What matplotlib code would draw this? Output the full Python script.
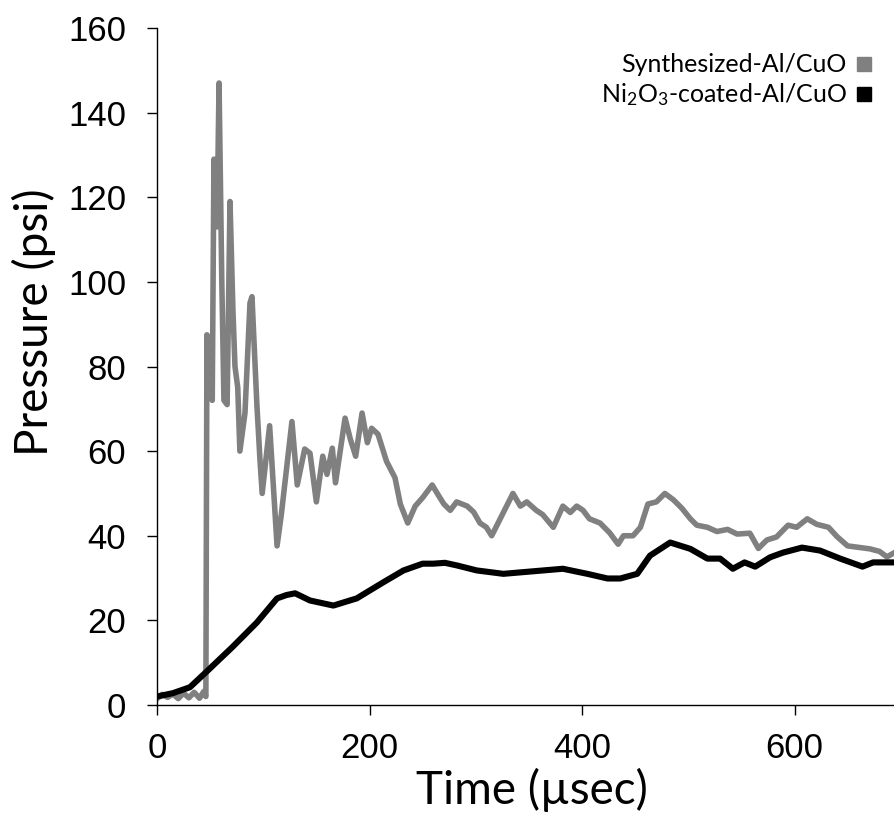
import numpy as np
import matplotlib
matplotlib.use("Agg")
import matplotlib.pyplot as plt
from matplotlib.lines import Line2D

# --- data ---
t_synth = [0, 5, 10, 15, 20, 25, 30, 35, 40, 44, 46, 47, 48, 50, 52, 53.6, 55, 56.5,
           58.4, 61, 63, 66, 68.7, 71.5, 73.4, 76, 78, 82.8, 87.5, 89.4, 94, 97, 99,
           106, 113, 117, 127, 132, 139, 144, 150, 156, 160, 165, 168, 177, 182, 187,
           193, 198, 202, 208, 216, 224, 229, 236, 243, 250, 259, 265, 270, 276, 282,
           292, 298, 304, 310, 315, 323, 329, 335, 342, 348, 357, 363, 368, 373, 382,
           389, 395, 401, 407, 417, 426, 434, 439, 448, 455, 462, 470, 478, 486, 494,
           502, 508, 518, 527, 537, 546, 558, 566, 574, 583, 594, 602, 612, 621, 632,
           640, 650, 662, 671, 680, 687, 694]
p_synth = [1.5, 2.5, 1.8, 2.6, 1.5, 2.8, 1.7, 3.0, 1.6, 3.2, 2.0, 87.5, 73, 85, 72, 129, 120, 113,
           147, 100, 72, 71, 119, 93, 80, 75, 60, 69, 95, 96.5, 71, 57.6, 50,
           66, 37.6, 45, 67, 52, 60.5, 59.5, 48, 58.8, 54.5, 60.7, 52.5, 67.8, 62.8, 58.8,
           69, 62, 65.4, 64, 57.6, 53.7, 47.5, 43, 47, 49, 52, 49.5, 47.5, 46, 48,
           47, 45.6, 43, 42, 40, 44, 47, 50, 47, 48, 46, 45, 43.5, 42, 47,
           45.5, 47, 46, 44, 43, 40.7, 38, 40, 40, 42, 47.5, 48, 50, 48.5, 46.5,
           44, 42.5, 42, 41, 41.5, 40.4, 40.6, 37, 39, 39.7, 42.5, 42, 44, 42.7, 42,
           39.8, 37.6, 37.2, 36.9, 36.3, 35, 36]

t_coated = [0, 15, 31, 48, 71, 94, 113, 122, 130, 144, 166, 188, 213, 232, 250, 260, 271,
            282, 301, 326, 354, 382, 405, 424, 436, 452, 464, 483, 502, 518, 530, 542,
            553, 563, 577, 589, 607, 624, 643, 664, 674, 693]
p_coated = [2.0, 2.8, 4.2, 8.2, 13.7, 19.5, 25.2, 26.0, 26.4, 24.7, 23.5, 25.2, 29, 31.8, 33.4, 33.4, 33.6,
            33, 31.8, 31, 31.6, 32.2, 31, 29.9, 29.9, 31, 35.3, 38.4, 36.9, 34.6, 34.6, 32.2,
            33.7, 32.7, 34.9, 36, 37.2, 36.5, 34.6, 32.7, 33.7, 33.7]

labels = ["Synthesized-Al/CuO", "Ni$_2$O$_3$-coated-Al/CuO"]
colors = ["#808080", "#000000"]
x_ticks = [0, 200, 400, 600]
y_ticks = [0, 20, 40, 60, 80, 100, 120, 140, 160]

plt.rcParams['mathtext.fontset'] = 'custom'
plt.rcParams['mathtext.rm'] = 'Lato'
plt.rcParams['mathtext.it'] = 'Lato:italic'

W, H = 895, 817
fig = plt.figure(figsize=(W / 100, H / 100), dpi=100)
ax = fig.add_axes([157 / W, (H - 705) / H, 743.75 / W, (705 - 28) / H])

ax.plot(t_synth, p_synth, color=colors[0], lw=4.0, solid_joinstyle='round', zorder=2)
ax.plot(t_coated, p_coated, color=colors[1], lw=4.4, solid_joinstyle='round', zorder=3)

ax.set_xlim(0, 700)
ax.set_ylim(0, 160)
ax.set_xticks(x_ticks)
ax.set_yticks(y_ticks)
for s in ['top', 'right']:
    ax.spines[s].set_visible(False)
for s in ['left', 'bottom']:
    ax.spines[s].set_linewidth(1.0)
ax.tick_params(direction='out', length=7.2, width=1.0, labelsize=25, pad=15)
ax.tick_params(axis='x', pad=12)
for lab in ax.get_xticklabels() + ax.get_yticklabels():
    lab.set_family('Liberation Sans')

ax.set_xlabel("Time (µsec)", family='Lato', fontsize=33)
ax.xaxis.set_label_coords((532 - 157) / 743.75, (705 - 790) / 677)
ax.xaxis.label.set_va('center')
ax.set_ylabel("Pressure (psi)", family='Lato', fontsize=33)
ax.yaxis.set_label_coords((34 - 157) / 743.75, (705 - 322) / 677)
ax.yaxis.label.set_va('center')

handles = [Line2D([], [], ls='none', marker='s', markersize=10.5, color=c, mec=c) for c in colors]
fig.legend(handles, labels, loc='upper right', bbox_to_anchor=(884 / W, 1 - 41 / H),
           frameon=False, markerfirst=False, borderpad=0, handlelength=0.6,
           handletextpad=0.4, labelspacing=0.2,
           prop={'family': 'Lato', 'size': 18})

fig.savefig("out.png", dpi=100)
